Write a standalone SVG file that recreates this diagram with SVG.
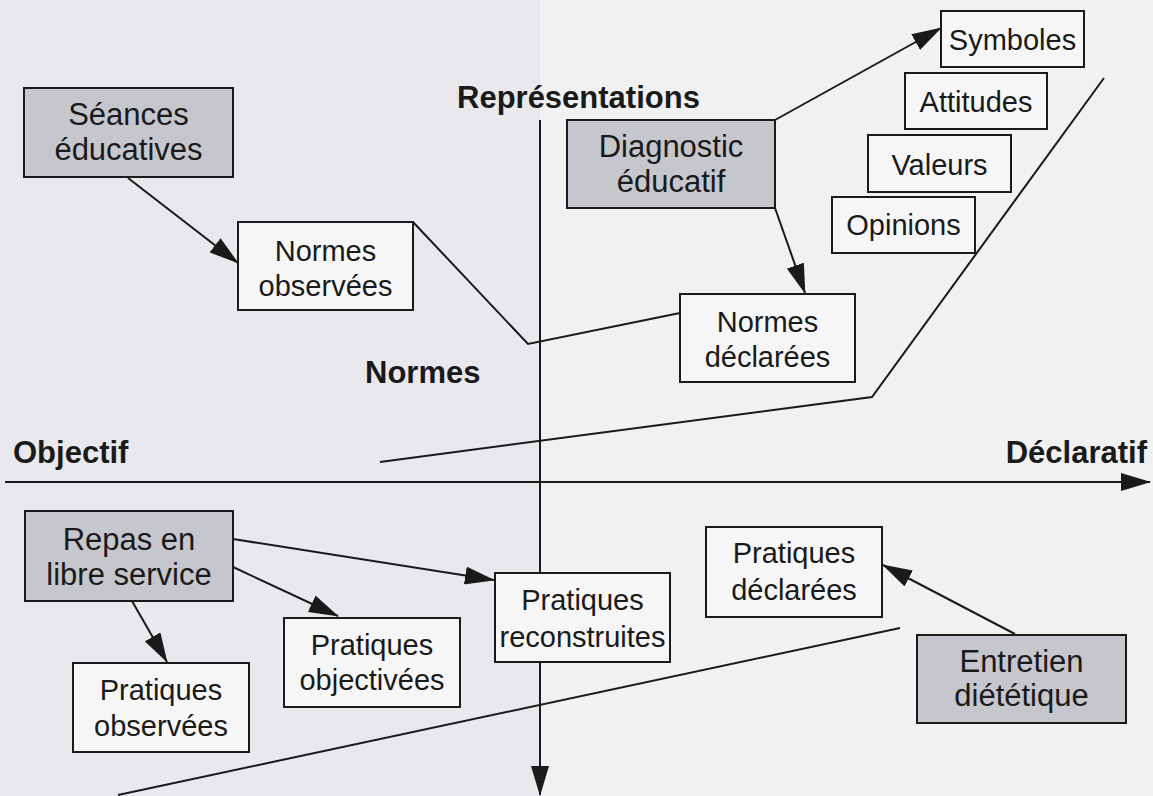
<svg xmlns="http://www.w3.org/2000/svg" width="1153" height="796" viewBox="0 0 1153 796">
  <defs>
    <marker id="ah" viewBox="0 0 30 18" markerWidth="30" markerHeight="18" refX="29" refY="9" orient="auto" markerUnits="userSpaceOnUse">
      <path d="M0,0 L30,9 L0,18 Z" fill="#1a1a1a"/>
    </marker>
  </defs>
  <style>
    .bg1 { fill: #e9e9ed; }
    .bg2 { fill: #f1f1f1; }
    .line { fill: none; stroke: #1a1a1a; stroke-width: 2; }
    .arrow { fill: none; stroke: #1a1a1a; stroke-width: 2; marker-end: url(#ah); }
    .box { fill: #f6f6f6; stroke: #1a1a1a; stroke-width: 2; }
    .shade { fill: #c6c6cd; stroke: #1a1a1a; stroke-width: 2; }
    .t { font-family: "Liberation Sans", Arial, Helvetica, sans-serif; font-size: 29px; fill: #1a1a1a; text-anchor: middle; }
    .ts { font-family: "Liberation Sans", Arial, Helvetica, sans-serif; font-size: 31px; fill: #1a1a1a; text-anchor: middle; }
    .lab { font-family: "Liberation Sans", Arial, Helvetica, sans-serif; font-size: 31px; font-weight: bold; fill: #1a1a1a; }
  </style>
  <rect class="bg1" x="0" y="0" width="540" height="796"/>
  <rect class="bg2" x="540" y="0" width="613" height="796"/>

  <g id="connectors">
    <line class="arrow" x1="5" y1="482" x2="1150" y2="482"/>
    <line class="arrow" x1="540" y1="120" x2="540" y2="795"/>
    <polyline class="line" points="380,462 872,397 1104,78"/>
    <polyline class="line" points="413,222 528,344 680,313"/>
    <line class="line" x1="118" y1="795" x2="900" y2="628"/>
    <line class="arrow" x1="128" y1="178" x2="238" y2="263"/>
    <line class="arrow" x1="775" y1="120" x2="941" y2="28"/>
    <line class="arrow" x1="775" y1="208" x2="805" y2="293"/>
    <line class="arrow" x1="233" y1="539" x2="494" y2="580"/>
    <line class="arrow" x1="233" y1="567" x2="338" y2="616"/>
    <line class="arrow" x1="132" y1="601" x2="167" y2="662"/>
    <line class="arrow" x1="1015" y1="634" x2="883" y2="565"/>
  </g>

  <g id="labels">
    <text class="lab" x="457" y="108">Représentations</text>
    <text class="lab" x="365" y="383">Normes</text>
    <text class="lab" x="13" y="463">Objectif</text>
    <text class="lab" x="1147" y="463" text-anchor="end">Déclaratif</text>
  </g>

  <g id="seances">
    <rect class="shade" x="24" y="88" width="209" height="89"/>
    <text class="ts" x="128.5" y="125">Séances</text>
    <text class="ts" x="128.5" y="160">éducatives</text>
  </g>
  <g id="normes-observees">
    <rect class="box" x="238" y="222" width="175" height="88"/>
    <text class="t" x="325.5" y="261">Normes</text>
    <text class="t" x="325.5" y="296">observées</text>
  </g>
  <g id="diagnostic">
    <rect class="shade" x="567" y="120" width="208" height="88"/>
    <text class="ts" x="671" y="157">Diagnostic</text>
    <text class="ts" x="671" y="192">éducatif</text>
  </g>
  <g id="symboles">
    <rect class="box" x="941" y="11" width="143" height="56"/>
    <text class="t" x="1012.5" y="50">Symboles</text>
  </g>
  <g id="attitudes">
    <rect class="box" x="905" y="73" width="142" height="56"/>
    <text class="t" x="976" y="112">Attitudes</text>
  </g>
  <g id="valeurs">
    <rect class="box" x="868" y="135" width="143" height="57"/>
    <text class="t" x="939.5" y="175">Valeurs</text>
  </g>
  <g id="opinions">
    <rect class="box" x="832" y="197" width="143" height="56"/>
    <text class="t" x="903.5" y="235">Opinions</text>
  </g>
  <g id="normes-declarees">
    <rect class="box" x="680" y="294" width="175" height="88"/>
    <text class="t" x="767.5" y="332">Normes</text>
    <text class="t" x="767.5" y="367">déclarées</text>
  </g>
  <g id="repas">
    <rect class="shade" x="25" y="511" width="208" height="90"/>
    <text class="ts" x="129" y="550">Repas en</text>
    <text class="ts" x="129" y="585">libre service</text>
  </g>
  <g id="pratiques-observees">
    <rect class="box" x="73" y="663" width="176" height="89"/>
    <text class="t" x="161" y="700">Pratiques</text>
    <text class="t" x="161" y="736">observées</text>
  </g>
  <g id="pratiques-objectivees">
    <rect class="box" x="284" y="618" width="176" height="89"/>
    <text class="t" x="372" y="655">Pratiques</text>
    <text class="t" x="372" y="690">objectivées</text>
  </g>
  <g id="pratiques-reconstruites">
    <rect class="box" x="495" y="573" width="175" height="89"/>
    <text class="t" x="582.5" y="610">Pratiques</text>
    <text class="t" x="582.5" y="647">reconstruites</text>
  </g>
  <g id="pratiques-declarees">
    <rect class="box" x="706" y="527" width="176" height="90"/>
    <text class="t" x="794" y="563">Pratiques</text>
    <text class="t" x="794" y="600">déclarées</text>
  </g>
  <g id="entretien">
    <rect class="shade" x="917" y="635" width="209" height="88"/>
    <text class="ts" x="1021.5" y="672">Entretien</text>
    <text class="ts" x="1021.5" y="706">diététique</text>
  </g>
</svg>
